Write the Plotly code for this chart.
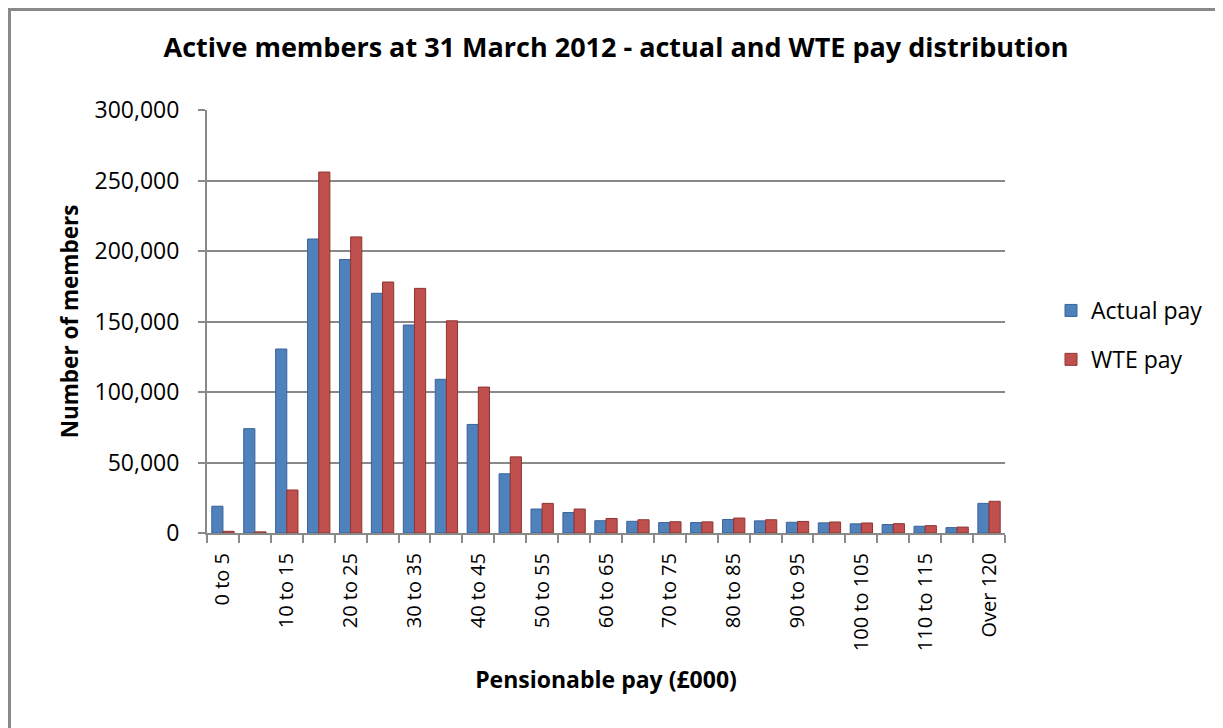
import plotly.graph_objects as go

categories = ["0 to 5", "5 to 10", "10 to 15", "15 to 20", "20 to 25", "25 to 30",
              "30 to 35", "35 to 40", "40 to 45", "45 to 50", "50 to 55", "55 to 60",
              "60 to 65", "65 to 70", "70 to 75", "75 to 80", "80 to 85", "85 to 90",
              "90 to 95", "95 to 100", "100 to 105", "105 to 110", "110 to 115",
              "115 to 120", "Over 120"]

actual_pay = [19000, 74000, 130500, 208500, 194000, 170000, 147500, 109000, 77000,
              42000, 17000, 14500, 8700, 8300, 7400, 7400, 9600, 8600, 7600, 7200,
              6500, 6000, 4800, 3800, 21000]

wte_pay = [1200, 800, 30500, 256000, 210000, 178000, 173500, 150500, 103500,
           54000, 21000, 17000, 10300, 9400, 8000, 7900, 10600, 9400, 8200, 7800,
           7100, 6600, 5200, 4200, 22500]

tick_text = [c if i % 2 == 0 else "" for i, c in enumerate(categories)]

FONT = "Open Sans"
BLUE = "#4F81BD"
RED = "#C0504D"
GREY = "#898989"

fig = go.Figure()
fig.add_trace(go.Bar(x=categories, y=actual_pay, name="Actual pay",
                     marker=dict(color=BLUE, line=dict(color="#3A6496", width=1)),
                     legendgroup="a"))
fig.add_trace(go.Bar(x=categories, y=wte_pay, name="WTE pay",
                     marker=dict(color=RED, line=dict(color="#8E3533", width=1)),
                     legendgroup="b"))

OFF = 8  # page body margin
W, H = 1223 - OFF, 728 - OFF
# target plot-area edges in page pixels
L, R, T, B = 207, 1005, 110, 533

def px(x):
    return (x - L) / (R - L)

def py(y):
    return (B - y) / (B - T)

border_path = "M {:.5f},{:.5f} L {:.5f},{:.5f} L {:.5f},{:.5f}".format(
    px(OFF + 1.5), py(800), px(OFF + 1.5), py(OFF + 1.5), px(1400), py(OFF + 1.5))

fig.update_layout(
    width=W, height=H,
    margin=dict(l=L - OFF, r=W - (R - OFF), t=T - OFF, b=H - (B - OFF)),
    paper_bgcolor="white", plot_bgcolor="white",
    barmode="group", bargap=0.3, bargroupgap=0.0,
    font=dict(family=FONT, color="black"),
    title=dict(text="<b>Active members at 31 March 2012 - actual and WTE pay distribution</b>",
               font=dict(family=FONT, size=27, color="black"),
               x=((167 + 1065) / 2 - OFF) / W, xanchor="center",
               y=1 - (48 - OFF) / H, yanchor="middle"),
    showlegend=True,
    legend=dict(x=px(1051), xanchor="left", y=py(289), yanchor="top",
                font=dict(family=FONT, size=23, color="black"),
                traceorder="grouped", tracegroupgap=16,
                itemwidth=30, bgcolor="rgba(0,0,0,0)"),
    shapes=[dict(type="path", xref="paper", yref="paper", path=border_path,
                 line=dict(color=GREY, width=3), layer="below")],
)

fig.update_xaxes(
    type="category", tickmode="array", tickvals=categories, ticktext=tick_text,
    tickangle=-90, tickfont=dict(family=FONT, size=20, color="black"),
    ticks="outside", ticklen=8, tickcolor=GREY, tickwidth=2, tickson="boundaries",
    ticklabelstandoff=10,
    showline=True, linecolor=GREY, linewidth=2, showgrid=False,
    title=dict(text="<b>Pensionable pay (£000)</b>", font=dict(family=FONT, size=23, color="black"),
               standoff=22),
)

fig.update_yaxes(
    range=[0, 300000], dtick=50000, tickformat=",",
    tickfont=dict(family=FONT, size=23, color="black"),
    ticks="outside", ticklen=7, tickcolor=GREY, tickwidth=2,
    ticklabelstandoff=14,
    showline=True, linecolor=GREY, linewidth=2,
    showgrid=True, gridcolor=GREY, gridwidth=2, zeroline=False,
    title=dict(text="<b>Number of members</b>", font=dict(family=FONT, size=22.5, color="black"),
               standoff=10),
)

fig.write_html("out.html")
